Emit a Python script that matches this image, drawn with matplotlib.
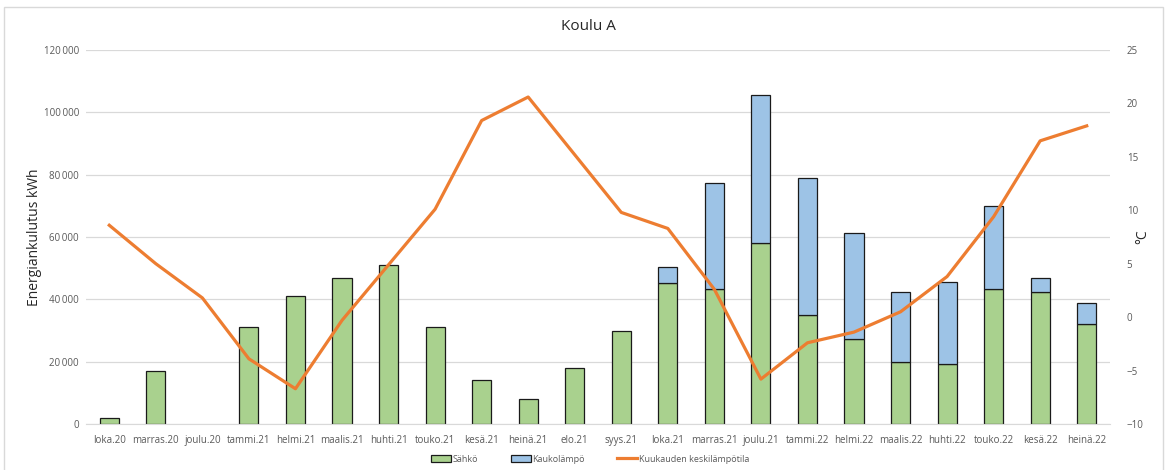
import matplotlib

matplotlib.use("Agg")
import matplotlib.pyplot as plt
import numpy as np
from matplotlib.lines import Line2D
from matplotlib.patches import Patch, Rectangle
from matplotlib.ticker import FuncFormatter

months = ["loka.20", "marras.20", "joulu.20", "tammi.21", "helmi.21", "maalis.21",
          "huhti.21", "touko.21", "kesä.21", "heinä.21", "elo.21", "syys.21",
          "loka.21", "marras.21", "joulu.21", "tammi.22", "helmi.22", "maalis.22",
          "huhti.22", "touko.22", "kesä.22", "heinä.22"]
sahko = [2000, 17000, 0, 31000, 41000, 47000, 51000, 31000, 14000, 8000, 18000, 30000,
         45300, 43300, 58200, 35000, 27200, 20000, 19100, 43400, 42300, 32000]
kaukolampo = [0, 0, 0, 0, 0, 0, 0, 0, 0, 0, 0, 0,
              5200, 34000, 47500, 43800, 34100, 22300, 26500, 26400, 4600, 6800]
lampotila = [8.6, 5.0, 1.8, -3.9, -6.7, -0.3, 4.9, 10.1, 18.4, 20.6, 15.2, 9.8,
             8.3, 2.6, -5.8, -2.4, -1.4, 0.5, 3.8, 9.4, 16.5, 17.9]

green, blue, orange = "#A9D18E", "#9DC3E6", "#ED7D31"
grey_txt = "#595959"
plt.rcParams["font.family"] = ["Open Sans", "DejaVu Sans"]

fig = plt.figure(figsize=(11.69, 4.70), dpi=100)
fig.patches.append(Rectangle((4 / 1169, -0.05), 1159 / 1169, 1 - 7 / 470 + 0.05,
                             transform=fig.transFigure, fill=False,
                             edgecolor="#D9D9D9", lw=1))
ax = fig.add_axes([86 / 1169, 46 / 470, 1024 / 1169, 374 / 470])
x = np.arange(len(months))
w = 0.41
s = np.array(sahko)
kl = np.array(kaukolampo)
# nollakuukaudet jätetään piirtämättä, ettei pohjaan jää viivaa
ax.bar(x[s > 0], s[s > 0], w, color=green, edgecolor="#1a1a1a", lw=0.9, zorder=2)
mask = kl > 0
ax.bar(x[mask], kl[mask], w, bottom=s[mask], color=blue,
       edgecolor="#1a1a1a", lw=0.9, zorder=2)

ax.set_xlim(-0.5, len(months) - 0.5)
ax.set_ylim(0, 120000)
ax.set_yticks(np.arange(0, 120001, 20000))
ax.yaxis.set_major_formatter(FuncFormatter(lambda v, p: f"{int(v):,}".replace(",", "\u2009")))
ax.grid(axis="y", color="#D9D9D9", lw=0.9, zorder=0)
ax.set_xticks(x)
ax.set_xticklabels(months)
for sp in ["top", "left", "right"]:
    ax.spines[sp].set_visible(False)
ax.spines["bottom"].set_color("#D9D9D9")
ax.tick_params(length=0, labelsize=7, colors=grey_txt, pad=8)
ax.tick_params(axis="y", pad=5)

ax2 = ax.twinx()
ax2.plot(x, lampotila, color=orange, lw=2.3, zorder=3)
ax2.set_ylim(-10, 25)
ax2.set_yticks(np.arange(-10, 26, 5))
for sp in ["top", "left", "right", "bottom"]:
    ax2.spines[sp].set_visible(False)
ax2.tick_params(length=0, labelsize=7, colors=grey_txt, pad=12)

fig.text(35 / 1169, 1 - 237 / 470, "Energiankulutus kWh", rotation=90, ha="center",
         va="center", fontsize=10, color="#262626")
fig.text(1143 / 1169, 1 - 237 / 470, "°C", rotation=90, ha="center",
         va="center", fontsize=10, color="#262626")
fig.text(0.503, 1 - 27 / 470, "Koulu A", ha="center", va="center", fontsize=11,
         color="#262626")

handles = [Patch(facecolor=green, edgecolor="#1a1a1a", lw=0.9),
           Patch(facecolor=blue, edgecolor="#1a1a1a", lw=0.9),
           Line2D([0], [0], color=orange, lw=2.3)]
fig.legend(handles, ["Sähkö", "Kaukolämpö", "Kuukauden keskilämpötila"],
           loc="center", bbox_to_anchor=(0.505, 1 - 459 / 470), ncol=3, frameon=False,
           fontsize=6.5, labelcolor=grey_txt, handlelength=2.2, handleheight=0.7,
           handletextpad=0.2, columnspacing=3.6)

fig.savefig("out.png", dpi=100)
